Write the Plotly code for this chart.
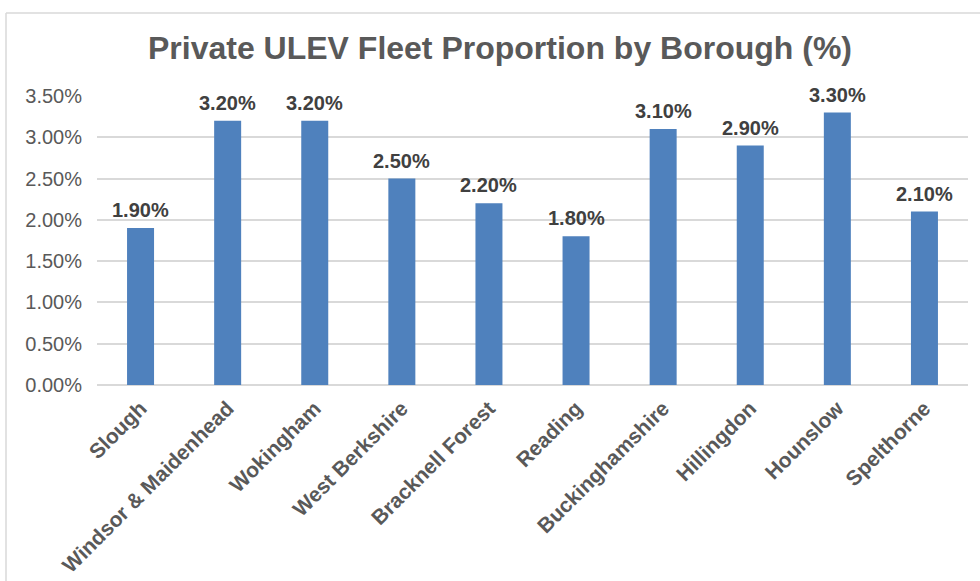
import plotly.graph_objects as go

# Private ULEV share of the vehicle fleet, by borough
boroughs = [
    "Slough", "Windsor & Maidenhead", "Wokingham", "West Berkshire",
    "Bracknell Forest", "Reading", "Buckinghamshire", "Hillingdon",
    "Hounslow", "Spelthorne",
]
ulev_share = [1.9, 3.2, 3.2, 2.5, 2.2, 1.8, 3.1, 2.9, 3.3, 2.1]

y_ticks = [0, 0.5, 1.0, 1.5, 2.0, 2.5, 3.0, 3.5]
y_tick_labels = [f"{v:.2f}%" for v in y_ticks]

BAR_BLUE = "#4F81BD"
TEXT_GREY = "#595959"
LABEL_GREY = "#404040"
FONT = "Liberation Sans, Arial, sans-serif"

fig = go.Figure(
    go.Bar(
        x=boroughs,
        y=ulev_share,
        marker=dict(color=BAR_BLUE, line=dict(width=0)),
        width=0.31,
        hoverinfo="x+y",
    )
)

# value labels above each bar
for name, val in zip(boroughs, ulev_share):
    fig.add_annotation(
        x=name, y=val, text=f"<b>{val:.2f}%</b>",
        showarrow=False, yanchor="bottom", yshift=5,
        font=dict(family=FONT, size=20, color=LABEL_GREY),
    )

# light frame along the top and left of the chart
L, R, T, B = 97, 968, 96, 385
def px_x(p):
    return (p - L) / (R - L)
def px_y(p):
    return (B - p) / (B - T)

frame = dict(color="#D9D9D9", width=1.5)
fig.add_shape(type="line", xref="paper", yref="paper",
              x0=px_x(6), x1=px_x(985), y0=px_y(13), y1=px_y(13), line=frame)
fig.add_shape(type="line", xref="paper", yref="paper",
              x0=px_x(6), x1=px_x(6), y0=px_y(13), y1=px_y(590), line=frame)

fig.update_layout(
    width=980, height=581,
    margin=dict(l=L, r=980 - R, t=T, b=581 - B, autoexpand=False),
    paper_bgcolor="white", plot_bgcolor="white",
    showlegend=False,
    bargap=0.69,
    title=dict(
        text="<b>Private ULEV Fleet Proportion by Borough (%)</b>",
        x=500 / 980, xref="container", xanchor="center",
        y=1 - 48 / 581, yref="container", yanchor="middle",
        font=dict(family=FONT, size=32, color=TEXT_GREY),
    ),
    xaxis=dict(
        tickangle=-45,
        tickfont=dict(family=FONT, size=21, color=TEXT_GREY, weight="bold"),
        showgrid=False, showline=False, ticks="",
        ticklabelstandoff=6,
        automargin=False,
        fixedrange=True,
    ),
    yaxis=dict(
        range=[0, 3.5],
        tickvals=y_ticks, ticktext=y_tick_labels,
        tickfont=dict(family=FONT, size=20, color=TEXT_GREY),
        showgrid=True, gridcolor="#D9D9D9", gridwidth=1.5,
        zeroline=True, zerolinecolor="#D9D9D9", zerolinewidth=1.5,
        showline=False, ticks="",
        ticklabelstandoff=14,
        automargin=False,
        fixedrange=True,
    ),
)

fig.write_html("out.html")
